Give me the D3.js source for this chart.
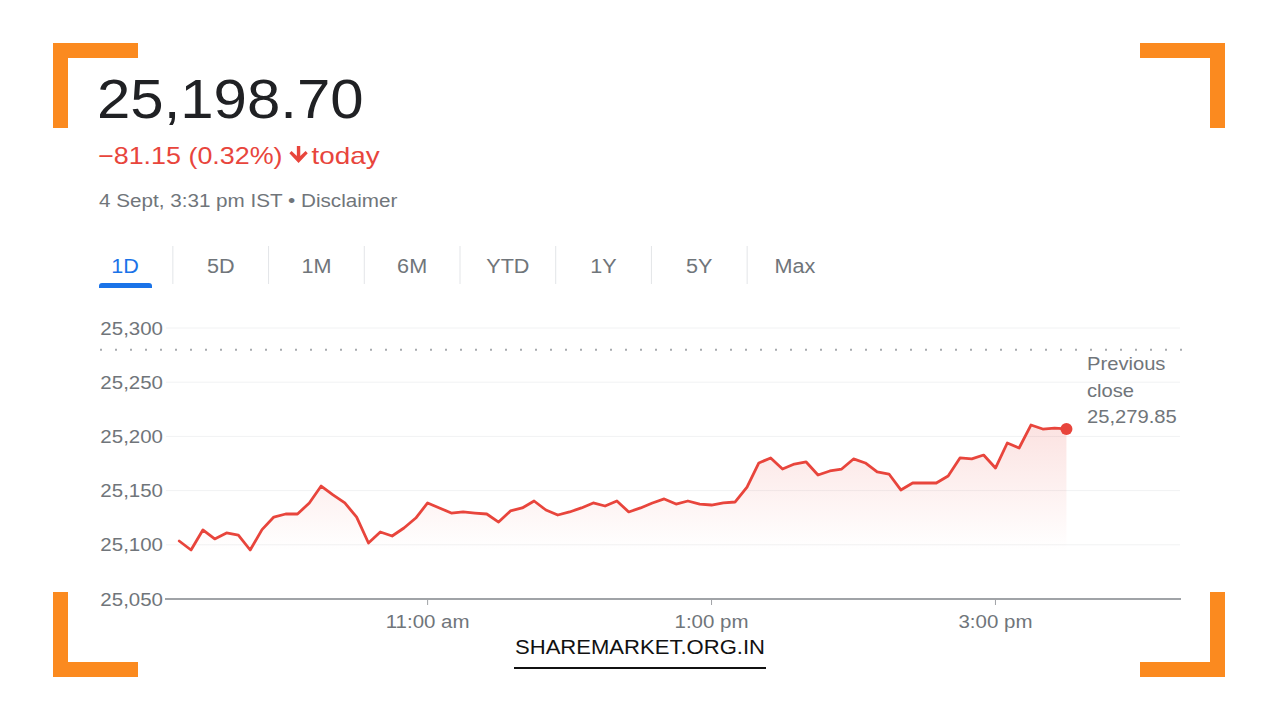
<!DOCTYPE html>
<html>
<head>
<meta charset="utf-8">
<script src="https://cdn.jsdelivr.net/npm/d3@7"></script>
<style>
  html, body { margin: 0; padding: 0; background: #fff; }
  svg { display: block; }
  text { font-family: "Liberation Sans", Arial, sans-serif; }
</style>
</head>
<body>
<svg id="chart" width="1280" height="720"></svg>
<script>
// ---------- DATA ----------
const headlinePrice = "25,198.70";
const changeText = "\u221281.15 (0.32%)";
const changeSuffix = "today";
const timestampText = "4 Sept, 3:31 pm IST \u2022 Disclaimer";
const tabs = ["1D", "5D", "1M", "6M", "YTD", "1Y", "5Y", "Max"];
const previousClose = 25279.85;
const previousCloseLabel = ["Previous", "close", "25,279.85"];
const yTicks = [25050, 25100, 25150, 25200, 25250, 25300];
const xTicks = [660, 780, 900];            // minutes of day: 11:00, 13:00, 15:00
const xTickLabels = ["11:00 am", "1:00 pm", "3:00 pm"];
const sessionStartMinute = 555;            // 9:15 am
const intervalMinutes = 5;
const prices = [
  25103.5, 25095.2, 25113.7, 25105.4, 25110.9, 25109.0, 25095.2, 25114.0, 25125.6, 25128.4,
  25128.4, 25138.6, 25154.2, 25146.0, 25138.6, 25125.6, 25101.7, 25111.8, 25108.1, 25115.5,
  25124.7, 25138.6, 25134.0, 25129.3, 25130.3, 25129.3, 25128.4, 25121.0, 25131.2, 25134.0,
  25140.4, 25132.1, 25127.5, 25130.3, 25134.0, 25138.6, 25135.8, 25140.4, 25130.3, 25134.0,
  25138.6, 25142.3, 25137.6, 25140.4, 25137.6, 25136.7, 25138.6, 25139.5, 25153.3, 25175.5,
  25180.1, 25169.9, 25174.5, 25176.4, 25164.4, 25168.1, 25169.9, 25179.2, 25175.5, 25167.2,
  25165.3, 25150.6, 25157.0, 25157.0, 25157.0, 25163.5, 25180.1, 25179.2, 25182.8, 25170.8,
  25193.9, 25189.3, 25210.5, 25206.8, 25207.7, 25206.9
];
const watermark = "SHAREMARKET.ORG.IN";

// ---------- STYLE ----------
const RED = "#e8453c";
const GRAY = "#70757a";
const ORANGE = "#fb8a1f";
const STRETCH = 1.17;   // reference text is drawn wider than Liberation Sans

const svg = d3.select("#chart");
svg.append("rect").attr("width", 1280).attr("height", 720).attr("fill", "#fff");

// text helper: stretch horizontally to the reference width
function stretched(sel, factor) {
  sel.each(function () {
    const w = this.getComputedTextLength();
    d3.select(this).attr("textLength", w * factor).attr("lengthAdjust", "spacingAndGlyphs");
  });
  return sel;
}

// corner brackets
const corners = [
  {x: 53, y: 43, sx: 1, sy: 1},
  {x: 1225, y: 43, sx: -1, sy: 1},
  {x: 53, y: 677, sx: 1, sy: -1},
  {x: 1225, y: 677, sx: -1, sy: -1}
];
const L = 85, T = 15;
corners.forEach(c => {
  const p = d3.path();
  p.moveTo(c.x, c.y);
  p.lineTo(c.x + c.sx * L, c.y);
  p.lineTo(c.x + c.sx * L, c.y + c.sy * T);
  p.lineTo(c.x + c.sx * T, c.y + c.sy * T);
  p.lineTo(c.x + c.sx * T, c.y + c.sy * L);
  p.lineTo(c.x, c.y + c.sy * L);
  p.closePath();
  svg.append("path").attr("d", p.toString()).attr("fill", ORANGE);
});

// header
stretched(svg.append("text").attr("x", 97).attr("y", 118).attr("font-size", 56)
  .attr("fill", "#202124").text(headlinePrice), 1.07);

const chg = stretched(svg.append("text").attr("x", 98).attr("y", 164).attr("font-size", 24)
  .attr("fill", RED).text(changeText), 1.12);
const chgW = +chg.attr("textLength");
// down arrow
const ax = 98 + chgW + 16, ay = 146;
svg.append("path")
  .attr("d", `M${ax - 1.7},${ay} L${ax + 1.7},${ay} L${ax + 1.7},${ay + 10} L${ax + 7},${ay + 5} L${ax + 9.2},${ay + 7.3} L${ax},${ay + 17} L${ax - 9.2},${ay + 7.3} L${ax - 7},${ay + 5} L${ax - 1.7},${ay + 10} Z`)
  .attr("fill", RED);
stretched(svg.append("text").attr("x", ax + 13).attr("y", 164).attr("font-size", 24)
  .attr("fill", RED).text(changeSuffix), 1.16);

stretched(svg.append("text").attr("x", 99).attr("y", 207).attr("font-size", 17.5)
  .attr("fill", GRAY).text(timestampText), 1.18);

// tabs
const tabCenters = d3.scalePoint().domain(tabs).range([125, 795]);
tabs.forEach((t, i) => {
  stretched(svg.append("text").attr("x", tabCenters(t)).attr("y", 273)
    .attr("text-anchor", "middle").attr("font-size", 20)
    .attr("fill", i === 0 ? "#1a73e8" : GRAY).text(t), 1.08);
  if (i < tabs.length - 1) {
    const sx = (tabCenters(t) + tabCenters(tabs[i + 1])) / 2;
    svg.append("line").attr("x1", sx).attr("x2", sx).attr("y1", 246).attr("y2", 284)
      .attr("stroke", "#e3e5e8").attr("stroke-width", 1);
  }
});
svg.append("path")
  .attr("d", "M99,288 L99,286 Q99,283 102,283 L149,283 Q152,283 152,286 L152,288 Z")
  .attr("fill", "#1a73e8");

// ---------- CHART ----------
const x = d3.scaleLinear().domain([549, 978]).range([165, 1180]);
const y = d3.scaleLinear().domain([25050, 25300]).range([599, 328]);

const data = prices.map((v, i) => ({t: sessionStartMinute + i * intervalMinutes, v}));

// gridlines
svg.append("g").selectAll("line").data(yTicks.slice(1)).join("line")
  .attr("x1", 166).attr("x2", 1180)
  .attr("y1", d => y(d)).attr("y2", d => y(d))
  .attr("stroke", "#f1f2f3").attr("stroke-width", 1);

// y labels
stretched(svg.append("g").selectAll("text").data(yTicks).join("text")
  .attr("x", 163).attr("y", d => y(d) + 6.5)
  .attr("text-anchor", "end").attr("font-size", 17.5).attr("fill", GRAY)
  .text(d => d3.format(",")(d)), STRETCH);

// previous close dotted line
svg.append("line").attr("x1", 100).attr("x2", 1182)
  .attr("y1", y(previousClose)).attr("y2", y(previousClose))
  .attr("stroke", "#a8abaf").attr("stroke-width", 2)
  .attr("stroke-dasharray", "2,13");

// area gradient
const defs = svg.append("defs");
const grad = defs.append("linearGradient").attr("id", "areaGrad")
  .attr("gradientUnits", "userSpaceOnUse")
  .attr("x1", 0).attr("x2", 0).attr("y1", y(25215)).attr("y2", y(25095));
grad.append("stop").attr("offset", 0).attr("stop-color", RED).attr("stop-opacity", 0.16);
grad.append("stop").attr("offset", 1).attr("stop-color", RED).attr("stop-opacity", 0);

svg.append("path").datum(data)
  .attr("d", d3.area().x(d => x(d.t)).y0(y(25050)).y1(d => y(d.v)))
  .attr("fill", "url(#areaGrad)");

// x axis
svg.append("line").attr("x1", 165).attr("x2", 1181).attr("y1", y(25050)).attr("y2", y(25050))
  .attr("stroke", "#a0a3a7").attr("stroke-width", 2);
svg.append("g").selectAll("line").data(xTicks).join("line")
  .attr("x1", d => x(d)).attr("x2", d => x(d))
  .attr("y1", y(25050)).attr("y2", y(25050) + 6)
  .attr("stroke", "#a0a3a7").attr("stroke-width", 1);
stretched(svg.append("g").selectAll("text").data(xTicks).join("text")
  .attr("x", d => x(d)).attr("y", 628)
  .attr("text-anchor", "middle").attr("font-size", 17.5).attr("fill", GRAY)
  .text((d, i) => xTickLabels[i]), STRETCH);

// price line
svg.append("path").datum(data)
  .attr("d", d3.line().x(d => x(d.t)).y(d => y(d.v)))
  .attr("fill", "none").attr("stroke", RED).attr("stroke-width", 2.8)
  .attr("stroke-linejoin", "round").attr("stroke-linecap", "round");

const last = data[data.length - 1];
svg.append("circle").attr("cx", x(last.t)).attr("cy", y(last.v)).attr("r", 6)
  .attr("fill", RED);

// previous close label
previousCloseLabel.forEach((s, i) => {
  stretched(svg.append("text").attr("x", 1087).attr("y", 370 + i * 26.5)
    .attr("font-size", 18.5).attr("fill", GRAY).text(s), 1.09);
});

// watermark
svg.append("text").attr("x", 515).attr("y", 654)
  .attr("font-family", "'Open Sans', sans-serif")
  .attr("font-size", 21).attr("fill", "#111")
  .attr("textLength", 250).attr("lengthAdjust", "spacingAndGlyphs")
  .text(watermark);
svg.append("line").attr("x1", 514).attr("x2", 766).attr("y1", 668).attr("y2", 668)
  .attr("stroke", "#111").attr("stroke-width", 2);
</script>
</body>
</html>
